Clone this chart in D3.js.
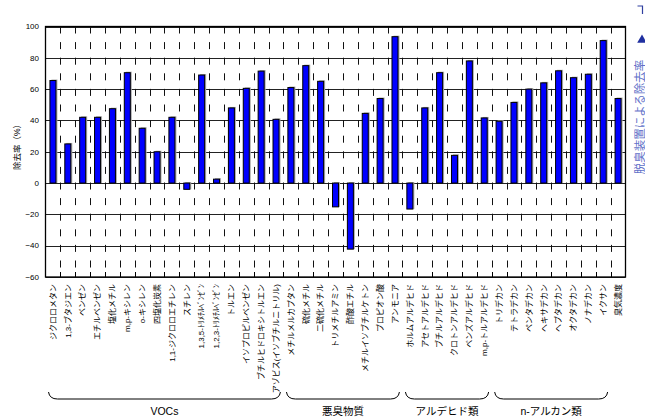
<!DOCTYPE html>
<html>
<head>
<meta charset="utf-8">
<script src="https://cdn.jsdelivr.net/npm/d3@7"></script>
<style>
  body { margin: 0; background: #fff; }
  svg { display: block; font-family: "Liberation Sans", Arial, "Noto Sans CJK JP", sans-serif; }
</style>
</head>
<body>
<svg id="chart" width="645" height="418"></svg>
<script>
// 成分ごとの除去率 (%)
var categories = [
    'ジクロロメタン', '1,3-ブタジエン', 'ベンゼン', 'エチルベンゼン', '塩化メチル',
    'm,p-キシレン', 'o-キシレン', '四塩化炭素', '1,1-ジクロロエチレン', 'スチレン',
    '1,3,5-ﾄﾘﾒﾁﾙﾍﾞﾝｾﾞﾝ', '1,2,3-ﾄﾘﾒﾁﾙﾍﾞﾝｾﾞﾝ', 'トルエン', 'イソプロピルベンゼン',
    'ブチルヒドロキシトルエン', 'アゾビス(イソブチルニトリル)',
    'メチルメルカプタン', '硫化メチル', '二硫化メチル', 'トリメチルアミン', '酢酸エチル',
    'メチルイソブチルケトン', 'プロピオン酸', 'アンモニア',
    'ホルムアルデヒド', 'アセトアルデヒド', 'ブチルアルデヒド', 'クロトンアルデヒド',
    'ベンズアルデヒド', 'm,p-トルアルデヒド',
    'トリデカン', 'テトラデカン', 'ペンタデカン', 'ヘキサデカン', 'ヘプタデカン',
    'オクタデカン', 'ノナデカン', 'イクサン', '臭気濃度'
];
var removal = [
    65.5, 25, 42, 42, 47.5,
    70.5, 35, 20, 42, -4,
    69, 2.5, 48, 60.5,
    71.5, 40.7,
    61, 75, 65, -15.2, -42.2,
    44.5, 54, 93.5,
    -16.6, 48, 70.5, 17.7,
    78, 41.6,
    39.5, 51.5, 60, 64, 71.7,
    67.3, 69.5, 91, 54
];
var groupNames = ['VOCs', '悪臭物質', 'アルデヒド類', 'n-アルカン類'];
var groupFirst = ['ジクロロメタン', 'メチルメルカプタン', 'ホルムアルデヒド', 'トリデカン'];
var groupLast = ['アゾビス(イソブチルニトリル)', 'アンモニア', 'm,p-トルアルデヒド', 'イクサン'];
var yTicks = [-60, -40, -20, 0, 20, 40, 60, 80, 100];
var legendLabel = '脱臭装置による除去率';

var svg = d3.select('#chart');
var plotL = 45.5, plotR = 625.5, plotT = 26.5, plotB = 277;

var x = d3.scaleBand().domain(categories).range([plotL, plotR]).padding(0);
var y = d3.scaleLinear().domain([-60, 100]).range([plotB, plotT]);

// horizontal grid
svg.append('g').selectAll('line').data(yTicks)
    .enter().append('line')
    .attr('x1', plotL).attr('x2', plotR)
    .attr('y1', function(d) { return Math.round(y(d)) + 0.5; })
    .attr('y2', function(d) { return Math.round(y(d)) + 0.5; })
    .style('stroke', '#222').style('stroke-width', 1);

// dashed vertical lines at category boundaries
var bounds = categories.slice(1).map(function(c) { return x(c); });
svg.append('g').selectAll('line').data(bounds)
    .enter().append('line')
    .attr('x1', function(d) { return Math.round(d) + 0.5; })
    .attr('x2', function(d) { return Math.round(d) + 0.5; })
    .attr('y1', plotT).attr('y2', plotB)
    .style('stroke', '#111').style('stroke-width', 1)
    .style('stroke-dasharray', '7,8.6');

// bars: shadow then fill
var barW = 6;
var bars = svg.append('g');
bars.selectAll('.shadow').data(categories)
    .enter().append('rect')
    .attr('class', 'shadow')
    .attr('x', function(d) { return x(d) + x.bandwidth() / 2 - barW / 2 + 1.5; })
    .attr('y', function(d, i) { return Math.min(y(removal[i]), y(0)) - 1; })
    .attr('width', barW)
    .attr('height', function(d, i) { return Math.abs(y(removal[i]) - y(0)) + 1; })
    .style('fill', '#aaa');
bars.selectAll('.bar').data(categories)
    .enter().append('rect')
    .attr('class', 'bar')
    .attr('x', function(d) { return x(d) + x.bandwidth() / 2 - barW / 2; })
    .attr('y', function(d, i) { return Math.min(y(removal[i]), y(0)); })
    .attr('width', barW)
    .attr('height', function(d, i) { return Math.abs(y(removal[i]) - y(0)); })
    .style('fill', '#0000ff').style('stroke', '#000').style('stroke-width', 1);

// frame
svg.append('rect')
    .attr('x', plotL).attr('y', plotT)
    .attr('width', plotR - plotL).attr('height', plotB - plotT)
    .style('fill', 'none').style('stroke', '#000').style('stroke-width', 1.3);

// x ticks
svg.append('g').selectAll('line').data(bounds)
    .enter().append('line')
    .attr('x1', function(d) { return Math.round(d) + 0.5; })
    .attr('x2', function(d) { return Math.round(d) + 0.5; })
    .attr('y1', plotB - 5).attr('y2', plotB)
    .style('stroke', '#000');

// y tick labels
svg.append('g').selectAll('text').data(yTicks)
    .enter().append('text')
    .attr('x', 39).attr('y', function(d) { return y(d); })
    .attr('dy', '0.35em')
    .style('text-anchor', 'end').style('font-size', '8px')
    .text(function(d) { return d < 0 ? '−' + Math.abs(d) : d; });

svg.append('text')
    .attr('transform', 'translate(17,145) rotate(-90)')
    .attr('dy', '0.35em')
    .style('text-anchor', 'middle').style('font-size', '8.5px')
    .text('除去率（%）');

// category labels
svg.append('g').selectAll('text').data(categories)
    .enter().append('text')
    .attr('transform', function(d) { return 'translate(' + (x(d) + x.bandwidth() / 2) + ',284) rotate(-90)'; })
    .attr('dy', '0.35em')
    .style('text-anchor', 'end').style('font-size', '8px')
    .text(function(d) { return d; });

// group braces
var braces = svg.append('g');
groupNames.forEach(function(g, i) {
    var x0 = x(groupFirst[i]) + 3, x1 = x(groupLast[i]) + x.bandwidth() - 3;
    var p = d3.path();
    p.moveTo(x0, 392);
    p.quadraticCurveTo(x0 + 1, 399, x0 + 9, 399);
    p.lineTo(x1 - 9, 399);
    p.quadraticCurveTo(x1 - 1, 399, x1, 392);
    braces.append('path').attr('d', p.toString())
        .style('fill', 'none').style('stroke', '#000').style('stroke-width', 1);
    braces.append('text')
        .attr('x', (x(groupFirst[i]) + x(groupLast[i]) + x.bandwidth()) / 2)
        .attr('y', 411).attr('dy', '0.35em')
        .style('text-anchor', 'middle').style('font-size', '10.5px')
        .text(g);
});

// legend (partly outside the frame)
var legend = svg.append('g');
legend.append('path')
    .attr('d', 'M637.5,6 H642.5 V14')
    .style('fill', 'none').style('stroke', '#3040a0').style('stroke-width', 1.2);
legend.append('path')
    .attr('d', d3.symbol().type(d3.symbolTriangle).size(40)())
    .attr('transform', 'translate(642,40)')
    .style('fill', '#2030a0');
legend.append('text')
    .attr('transform', 'translate(640,117) rotate(-90)')
    .attr('dy', '0.35em')
    .style('text-anchor', 'middle').style('font-size', '11.5px').style('fill', '#6070c8')
    .text(legendLabel);
</script>
</body>
</html>
